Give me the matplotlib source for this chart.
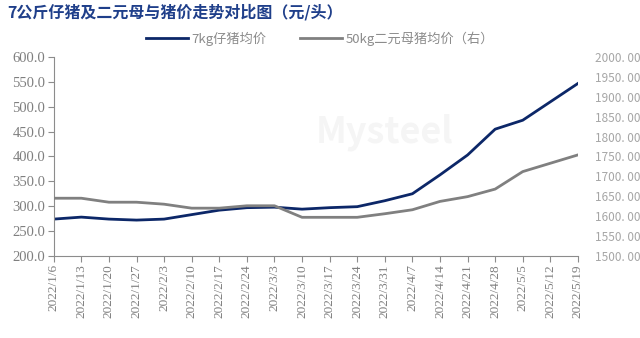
import matplotlib.pyplot as plt
import numpy as np
from matplotlib import font_manager

# tick labels in a serif face; CJK texts get their own family below
names = {f.name for f in font_manager.fontManager.ttflist}
serif = [n for n in ('Liberation Serif', 'Times New Roman', 'DejaVu Serif') if n in names]
plt.rcParams['font.family'] = serif + ['Noto Sans CJK SC', 'DejaVu Sans']
cjk = ['Noto Sans CJK SC', 'DejaVu Sans']

dates = ['2022/1/6', '2022/1/13', '2022/1/20', '2022/1/27', '2022/2/3', '2022/2/10',
         '2022/2/17', '2022/2/24', '2022/3/3', '2022/3/10', '2022/3/17', '2022/3/24',
         '2022/3/31', '2022/4/7', '2022/4/14', '2022/4/21', '2022/4/28', '2022/5/5',
         '2022/5/12', '2022/5/19']
piglet = [274, 278, 274, 272, 274, 283, 292, 297, 298, 294, 297, 299,
          311, 325, 363, 403, 455, 473, 510, 547]
sow = [1645, 1645, 1635, 1635, 1630, 1620, 1620, 1626, 1626, 1597, 1597, 1597,
       1606, 1616, 1637, 1649, 1668, 1712, 1733, 1754]

blue = '#0c2768'
grey = '#808080'
tick_c = '#7f7f7f'

fig = plt.figure(figsize=(6.4, 3.38), dpi=100)
ax = fig.add_axes([0.084, 0.243, 0.819, 0.588])
ax2 = ax.twinx()

x = np.arange(len(dates))
l1, = ax.plot(x, piglet, color=blue, lw=2.0, label='7kg仔猪均价')
l2, = ax2.plot(x, sow, color=grey, lw=2.0, label='50kg二元母猪均价（右）')

ax.set_xlim(0, len(dates) - 1)
ax.set_ylim(200, 600)
ax.set_yticks(np.arange(200, 601, 50))
ax.set_yticklabels([f'{v:.1f}' for v in np.arange(200, 601, 50)])
ax.set_xticks(x)
ax.set_xticklabels(dates, rotation=90)
ax.tick_params(axis='both', labelcolor=tick_c)
ax.tick_params(axis='y', labelsize=10.5)
ax.tick_params(axis='x', labelsize=9.5)

ax2.set_ylim(1500, 2000)
ax2.set_yticks(np.arange(1500, 2001, 50))
ax2.set_yticklabels([f'{v}. 00' for v in range(1500, 2001, 50)])
ax2.tick_params(axis='y', labelsize=8.5, labelcolor='#a6a6a6', labelfontfamily=cjk)

for a in (ax, ax2):
    for s in ('top', 'right'):
        a.spines[s].set_visible(False)
ax2.spines['left'].set_visible(False)
ax2.spines['bottom'].set_visible(False)
ax.spines['left'].set_color('#8c8c8c')
ax.spines['bottom'].set_color('#8c8c8c')
ax.tick_params(axis='both', direction='out', length=4, color='#8c8c8c', pad=2)
ax2.tick_params(axis='y', length=0, pad=12)

ax.text(0.5, 0.62, 'Mysteel', transform=ax.transAxes, fontsize=26, color='#f5f5f5',
        ha='left', va='center', fontweight='bold', family=cjk, zorder=0)

fig.text(0.012, 0.965, '7公斤仔猪及二元母与猪价走势对比图（元/头）', fontsize=11.5,
         fontweight='bold', color='#1f3f8a', ha='left', va='center', family=cjk)
fig.legend(handles=[l1, l2], loc='center', bbox_to_anchor=(0.5, 0.885), ncol=2,
           frameon=False, labelcolor='#8c8c8c', handlelength=3.2,
           columnspacing=2.5, handletextpad=0.3,
           prop={'family': cjk, 'size': 9.5})

fig.savefig('out.png', dpi=100)
